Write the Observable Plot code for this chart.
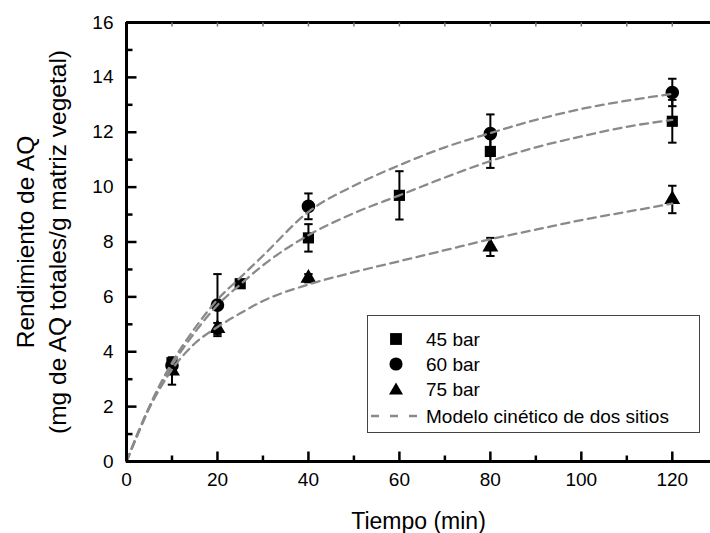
<!DOCTYPE html>
<html><head><meta charset="utf-8">
<script src="https://cdn.jsdelivr.net/npm/d3@7"></script>
<script src="https://cdn.jsdelivr.net/npm/@observablehq/plot@0.6"></script>
<style>
body{margin:0;background:#fff;font-family:"Liberation Sans",Arial,sans-serif}
#wrap{position:relative;width:710px;height:533px;overflow:hidden;background:#fff}
#wrap > svg{position:absolute;left:0;top:0}
#legend{position:absolute;left:367px;top:315px;width:331px;height:116px;border:1px solid #444;background:#fff}
</style></head>
<body><div id="wrap"></div>
<script>
// ---- data ----
const series = ["45 bar", "60 bar", "75 bar"];
const t45 = [10, 25, 40, 60, 80, 120];
const y45 = [3.6, 6.48, 8.15, 9.7, 11.3, 12.4];
const e45 = [0.1, 0, 0.5, 0.88, 0.6, 0.78];
const t60 = [10, 20, 40, 80, 120];
const y60 = [3.5, 5.7, 9.3, 11.95, 13.45];
const e60 = [0.1, 1.13, 0.47, 0.7, 0.5];
const t75 = [10, 20, 40, 80, 120];
const y75 = [3.3, 4.85, 6.68, 7.82, 9.55];
const e75 = [0.5, 0.2, 0.15, 0.33, 0.5];
const tModel = [0, 2.5, 5, 7.5, 10, 15, 20, 25, 30, 40, 50, 60, 70, 80, 90, 100, 110, 120];
const m45 = [0, 1.0, 1.95, 2.75, 3.5, 4.7, 5.7, 6.45, 7.15, 8.25, 9.05, 9.7, 10.35, 10.95, 11.45, 11.85, 12.2, 12.45];
const m60 = [0, 1.05, 2.0, 2.85, 3.6, 4.85, 5.9, 6.7, 7.5, 9.1, 10.05, 10.8, 11.45, 11.97, 12.45, 12.85, 13.15, 13.4];
const m75 = [0, 1.0, 1.95, 2.7, 3.35, 4.3, 4.9, 5.4, 5.85, 6.45, 6.9, 7.3, 7.7, 8.1, 8.45, 8.8, 9.1, 9.4];
const xMajor = [0, 20, 40, 60, 80, 100, 120];
const xMinor = [10, 30, 50, 70, 90, 110];
const xTop = [10, 20, 30, 40, 50, 60, 70, 80, 90, 100, 110, 120];
const yMajor = [0, 2, 4, 6, 8, 10, 12, 14, 16];
const yMinor = [1, 3, 5, 7, 9, 11, 13, 15];
const legendLabels = ["45 bar", "60 bar", "75 bar", "Modelo cinético de dos sitios"];
const xTitle = "Tiempo (min)";
const yTitle1 = "Rendimiento de AQ";
const yTitle2 = "(mg de AQ totales/g matriz vegetal)";

// ---- tables ----
const symbols = {"45 bar": "square", "60 bar": "circle", "75 bar": "triangle"};
const radius = {"45 bar": 6.3, "60 bar": 6.8, "75 bar": 5.9};
function pts(s, t, y, e) { return t.map((d, i) => ({s, t: d, y: y[i], lo: y[i] - e[i], hi: y[i] + e[i]})); }
const points = [...pts("45 bar", t45, y45, e45), ...pts("60 bar", t60, y60, e60), ...pts("75 bar", t75, y75, e75)];
const model = [
  ...tModel.map((t, i) => ({s: "45 bar", t, y: m45[i]})),
  ...tModel.map((t, i) => ({s: "60 bar", t, y: m60[i]})),
  ...tModel.map((t, i) => ({s: "75 bar", t, y: m75[i]}))
];
const bars = points.filter(d => d.hi > d.lo);
const hLine = {draw(ctx, size) { const r = Math.sqrt(size / Math.PI); ctx.moveTo(-r, 0); ctx.lineTo(r, 0); }};

const W = 710, H = 533, mL = 126, mR = 0, mT = 22, mB = 72;
const innerW = W - mL - mR, innerH = H - mT - mB;
const xDomain = [0, 128.4], yDomain = [0, 16];
const pxX = innerW / (xDomain[1] - xDomain[0]);   // pixels per x unit
const pxY = innerH / (yDomain[1] - yDomain[0]);   // pixels per y unit
const font = "'Liberation Sans', Arial, sans-serif";
const majorLen = 10, minorLen = 6, topLen = 4;
const common = {width: W, height: H, marginLeft: mL, marginRight: mR, marginTop: mT, marginBottom: mB};

// base layer: data marks and titles
const chart = Plot.plot({
  ...common,
  style: {fontFamily: font, fontSize: "19px", color: "black", background: "white"},
  x: {domain: xDomain, axis: null},
  y: {domain: yDomain, axis: null},
  marks: [
    Plot.ruleX(bars, {x: "t", y1: "lo", y2: "hi", stroke: "black", strokeWidth: 2}),
    Plot.dot(bars, {x: "t", y: "lo", symbol: hLine, r: 4.2, stroke: "black", strokeWidth: 2, fill: "none"}),
    Plot.dot(bars, {x: "t", y: "hi", symbol: hLine, r: 4.2, stroke: "black", strokeWidth: 2, fill: "none"}),
    ...series.map(s => Plot.dot(points.filter(d => d.s === s), {x: "t", y: "y", symbol: () => symbols[s], r: radius[s], fill: "black", stroke: "none"})),
    Plot.line(model, {x: "t", y: "y", z: "s", curve: "monotone-x", stroke: "#8a8a8a", strokeWidth: 2.3, strokeDasharray: "8,5.5"}),
    Plot.text([xTitle], {frameAnchor: "bottom", dy: 60, lineAnchor: "middle", text: d => d, fontSize: 23, fill: "black"}),
    Plot.text([yTitle1], {frameAnchor: "left", dx: -100, rotate: -90, textAnchor: "middle", lineAnchor: "middle", text: d => d, fontSize: 24.5, fill: "black"}),
    Plot.text([yTitle2], {frameAnchor: "left", dx: -68, rotate: -90, textAnchor: "middle", lineAnchor: "middle", text: d => d, fontSize: 24.5, fill: "black"})
  ]
});

// axis layer: frame, inward ticks and tick labels, same scales
const axes = Plot.plot({
  ...common,
  style: {fontFamily: font, fontSize: "19px", color: "black", background: "transparent"},
  x: {domain: xDomain},
  y: {domain: yDomain},
  marks: [
    Plot.ruleY(yDomain, {stroke: "black", strokeWidth: 3}),
    Plot.ruleX([0], {stroke: "black", strokeWidth: 3}),
    Plot.link(xMajor, {x1: d => d, x2: d => d, y1: 0, y2: majorLen / pxY, stroke: "black", strokeWidth: 2.5}),
    Plot.link(xMinor, {x1: d => d, x2: d => d, y1: 0, y2: minorLen / pxY, stroke: "black", strokeWidth: 2.5}),
    Plot.link(xTop, {x1: d => d, x2: d => d, y1: yDomain[1], y2: yDomain[1] - topLen / pxY, stroke: "#777", strokeWidth: 1.5}),
    Plot.link(yMajor, {x1: 0, x2: majorLen / pxX, y1: d => d, y2: d => d, stroke: "black", strokeWidth: 2.5}),
    Plot.link(yMinor, {x1: 0, x2: minorLen / pxX, y1: d => d, y2: d => d, stroke: "black", strokeWidth: 2.5}),
    Plot.axisX(xMajor, {tickSize: 0, tickPadding: 11, label: null, fontSize: 19}),
    Plot.axisY(yMajor, {tickSize: 0, tickPadding: 13, label: null, fontSize: 19})
  ]
});

const wrap = document.getElementById("wrap");
wrap.appendChild(chart);
wrap.appendChild(axes);

// legend (overlay inside the plot area)
const legend = document.createElement("div");
legend.id = "legend";
wrap.appendChild(legend);
const ls = d3.select(legend).append("svg").attr("width", 331).attr("height", 116)
  .style("font-family", font).style("font-size", "19px");
const rowsY = [23, 48, 73, 100];
const symFns = [d3.symbolSquare, d3.symbolCircle, d3.symbolTriangle];
const symSize = [140, 135, 85];
legendLabels.forEach((lab, i) => {
  if (i < 3) {
    ls.append("path").attr("d", d3.symbol(symFns[i], symSize[i])()).attr("transform", `translate(28,${rowsY[i] + (i === 2 ? 1.5 : 0)})`).attr("fill", "black");
  } else {
    ls.append("line").attr("x1", 3).attr("x2", 50).attr("y1", rowsY[i]).attr("y2", rowsY[i])
      .attr("stroke", "#8a8a8a").attr("stroke-width", 2.3).attr("stroke-dasharray", "8,11");
  }
  ls.append("text").attr("x", 58).attr("y", rowsY[i]).attr("dy", "0.35em").attr("fill", "black").text(lab);
});
</script>
</body></html>
